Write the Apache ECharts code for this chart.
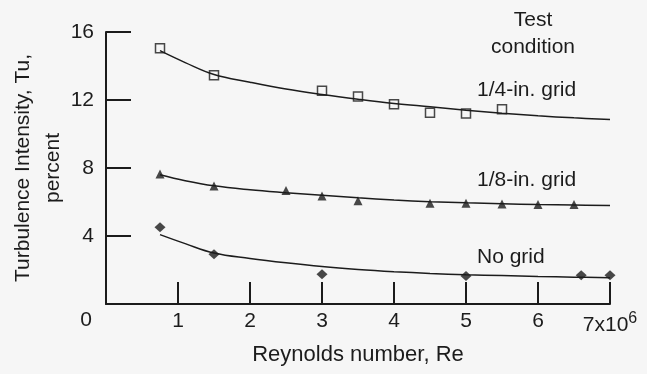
<!DOCTYPE html>
<html>
<head>
<meta charset="utf-8">
<script src="https://cdn.jsdelivr.net/npm/echarts@6/dist/echarts.min.js"></script>
<style>
html,body{margin:0;background:#f6f6f6}
#main{width:647px;height:374px}
</style>
</head>
<body>
<div id="main"></div>
<script>
// 读图得到的数据点（Re 单位 10^6，Tu 单位 %）
const quarterPts = [[0.75,15.05],[1.5,13.45],[3,12.55],[3.5,12.2],[4,11.75],[4.5,11.25],[5,11.2],[5.5,11.45]];
const quarterFit = [[0.75,14.9],[1.1,14.2],[1.5,13.5],[2,13.05],[2.5,12.65],[3,12.33],[3.5,12.05],[4,11.8],[4.5,11.6],[5,11.4],[5.5,11.22],[6,11.07],[6.5,10.95],[7,10.85]];
const eighthPts = [[0.75,7.65],[1.5,6.94],[2.5,6.67],[3,6.35],[3.5,6.08],[4.5,5.92],[5,5.92],[5.5,5.88],[6,5.86],[6.5,5.86]];
const eighthFit = [[0.75,7.6],[1.1,7.25],[1.5,6.95],[2,6.72],[2.5,6.55],[3,6.4],[3.5,6.25],[4,6.12],[4.5,6.02],[5,5.95],[5.5,5.9],[6,5.85],[6.5,5.82],[7,5.8]];
const noGridPts = [[0.75,4.51],[1.5,2.92],[3,1.75],[5,1.65],[6.6,1.69],[7,1.69]];
const noGridFit = [[0.75,4.08],[1.1,3.55],[1.5,3.0],[2,2.68],[2.5,2.42],[3,2.2],[3.5,2.03],[4,1.9],[4.5,1.8],[5,1.72],[5.5,1.67],[6,1.62],[6.5,1.58],[7,1.55]];
const seriesNames = ['1/4-in. grid','1/8-in. grid','No grid'];
const yTicks = [4,8,12,16];

const ink = '#1c1c1c';
const font = 'Liberation Sans';
const fs = 21;
const myChart = echarts.init(document.getElementById('main'));

const fitLine = (data) => ({
    type:'line', data:data, smooth:0.4, showSymbol:false, silent:true,
    lineStyle:{color:ink, width:1.5}
});

const option = {
    backgroundColor:'#f6f6f6',
    animation:false,
    textStyle:{fontFamily:font, color:ink},
    grid:{left:106, right:37, top:32, bottom:70, outerBoundsMode:'none', containLabel:false},
    xAxis:{
        type:'value', min:0, max:7, interval:1,
        name:'Reynolds number, Re', nameLocation:'middle', nameGap:40, nameMoveOverlap:false,
        nameTextStyle:{fontSize:22, color:ink, fontFamily:font},
        axisLine:{lineStyle:{color:ink, width:2}},
        axisTick:{inside:true, length:22, lineStyle:{color:ink, width:2}},
        splitLine:{show:false},
        axisLabel:{
            margin:7, fontSize:fs, color:ink, fontFamily:font,
            formatter:(v)=>{
                if(v==0) return '';
                if(v==7) return '7x10{sup|6}';
                return String(v);
            },
            rich:{sup:{fontSize:16, fontFamily:font, color:ink, padding:[0,0,12,0]}}
        }
    },
    yAxis:{
        type:'value', min:0, max:16, interval:4,
        name:'Turbulence Intensity, Tu,\npercent', nameLocation:'middle', nameGap:38, nameMoveOverlap:false,
        nameTextStyle:{fontSize:fs, lineHeight:30, color:ink, fontFamily:font},
        axisLine:{lineStyle:{color:ink, width:2}},
        axisTick:{inside:true, length:25, lineStyle:{color:ink, width:2}},
        splitLine:{show:false},
        axisLabel:{
            margin:12, fontSize:fs, color:ink, fontFamily:font,
            formatter:(v)=> yTicks.indexOf(v)>=0 ? String(v) : ''
        }
    },
    series:[
        fitLine(quarterFit),
        fitLine(eighthFit),
        fitLine(noGridFit),
        {name:seriesNames[0], type:'scatter', data:quarterPts, symbol:'rect', symbolSize:9,
         itemStyle:{color:'#f6f6f6', borderColor:ink, borderWidth:1.5}},
        {name:seriesNames[1], type:'scatter', data:eighthPts, symbol:'triangle', symbolSize:9,
         itemStyle:{color:ink}},
        {name:seriesNames[2], type:'scatter', data:noGridPts, symbol:'diamond', symbolSize:[11,10],
         itemStyle:{color:ink}}
    ],
    graphic:[
        {type:'text', x:86, y:320, style:{text:'0', fontSize:fs, fontFamily:font, fill:ink, align:'center', verticalAlign:'middle'}},
        {type:'text', x:533, y:20, style:{text:'Test', fontSize:fs, fontFamily:font, fill:ink, align:'center', verticalAlign:'middle'}},
        {type:'text', x:533, y:47, style:{text:'condition', fontSize:fs, fontFamily:font, fill:ink, align:'center', verticalAlign:'middle'}},
        {type:'text', x:477, y:90, style:{text:seriesNames[0], fontSize:fs, fontFamily:font, fill:ink, verticalAlign:'middle'}},
        {type:'text', x:477, y:180, style:{text:seriesNames[1], fontSize:fs, fontFamily:font, fill:ink, verticalAlign:'middle'}},
        {type:'text', x:477, y:257, style:{text:seriesNames[2], fontSize:fs, fontFamily:font, fill:ink, verticalAlign:'middle'}}
    ]
};
myChart.setOption(option);
</script>
</body>
</html>
